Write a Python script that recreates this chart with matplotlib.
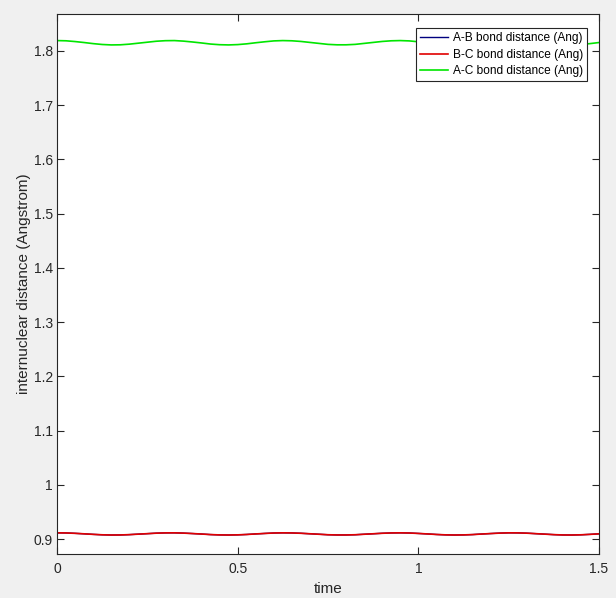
import matplotlib
matplotlib.use("Agg")
import matplotlib.pyplot as plt

time = [i * 0.025 for i in range(61)]

bc_dist = [0.9115, 0.9113, 0.9106, 0.9097, 0.9087, 0.9079, 0.9075, 0.9076, 0.9082, 0.9091,
           0.9100, 0.9109, 0.9114, 0.9115, 0.9110, 0.9102, 0.9093, 0.9083, 0.9077, 0.9075,
           0.9078, 0.9085, 0.9095, 0.9104, 0.9112, 0.9115, 0.9113, 0.9107, 0.9098, 0.9089,
           0.9080, 0.9076, 0.9076, 0.9080, 0.9089, 0.9098, 0.9107, 0.9113, 0.9115, 0.9112,
           0.9104, 0.9095, 0.9085, 0.9078, 0.9075, 0.9077, 0.9083, 0.9093, 0.9102, 0.9110,
           0.9115, 0.9114, 0.9109, 0.9100, 0.9091, 0.9082, 0.9076, 0.9075, 0.9079, 0.9087,
           0.9097]
ab_dist = list(bc_dist)
ac_dist = [1.8190, 1.8186, 1.8172, 1.8154, 1.8134, 1.8118, 1.8110, 1.8112, 1.8124, 1.8142,
           1.8160, 1.8178, 1.8188, 1.8190, 1.8180, 1.8164, 1.8146, 1.8126, 1.8114, 1.8110,
           1.8116, 1.8130, 1.8150, 1.8168, 1.8184, 1.8190, 1.8186, 1.8174, 1.8156, 1.8138,
           1.8120, 1.8112, 1.8112, 1.8120, 1.8138, 1.8156, 1.8174, 1.8186, 1.8190, 1.8184,
           1.8168, 1.8150, 1.8130, 1.8116, 1.8110, 1.8114, 1.8126, 1.8146, 1.8164, 1.8180,
           1.8190, 1.8188, 1.8178, 1.8160, 1.8142, 1.8124, 1.8112, 1.8110, 1.8118, 1.8134,
           1.8154]

labels = ["A-B bond distance (Ang)", "B-C bond distance (Ang)", "A-C bond distance (Ang)"]
xticks = [0, 0.5, 1, 1.5]
xticklabels = ["0", "0.5", "1", "1.5"]
yticks = [0.9, 1.0, 1.1, 1.2, 1.3, 1.4, 1.5, 1.6, 1.7, 1.8]
yticklabels = ["0.9", "1", "1.1", "1.2", "1.3", "1.4", "1.5", "1.6", "1.7", "1.8"]

plt.rcParams['font.family'] = ['Liberation Sans', 'DejaVu Sans']
axcol = '#262626'

fig = plt.figure(figsize=(6.16, 5.98), dpi=100, facecolor='#F0F0F0')
ax = fig.add_axes([57/616, 1 - 554/598, (599-57)/616, (554-14)/598])
ax.set_facecolor('white')

ax.plot(time, ab_dist, color='#00007F', lw=1.0, label=labels[0])
ax.plot(time, bc_dist, color='#E00000', lw=1.2, label=labels[1])
ax.plot(time, ac_dist, color='#00E600', lw=1.2, label=labels[2])

ax.set_xlim(0, 1.5)
ax.set_ylim(0.8725, 1.868)
ax.set_xticks(xticks)
ax.set_xticklabels(xticklabels)
ax.set_yticks(yticks)
ax.set_yticklabels(yticklabels)
ax.tick_params(direction='in', length=5, width=0.8, top=True, right=True,
               labelsize=10, colors=axcol)
ax.tick_params(axis='x', pad=6)
ax.tick_params(axis='y', pad=3)
for s in ax.spines.values():
    s.set_color(axcol)
    s.set_linewidth(0.8)

ax.set_xlabel('time', fontsize=11, color=axcol, labelpad=4)
ax.set_ylabel('internuclear distance (Angstrom)', fontsize=11, color=axcol, labelpad=2)

leg = ax.legend(loc='upper right', fontsize=8.6, frameon=True, fancybox=False,
                framealpha=1, edgecolor='#262626', handlelength=2.4,
                borderpad=0.35, labelspacing=0.38, handletextpad=0.35,
                borderaxespad=0, bbox_to_anchor=(530/542, 1 - 14/540))
leg.get_frame().set_linewidth(0.8)

fig.savefig('out.png', dpi=100, facecolor=fig.get_facecolor())
